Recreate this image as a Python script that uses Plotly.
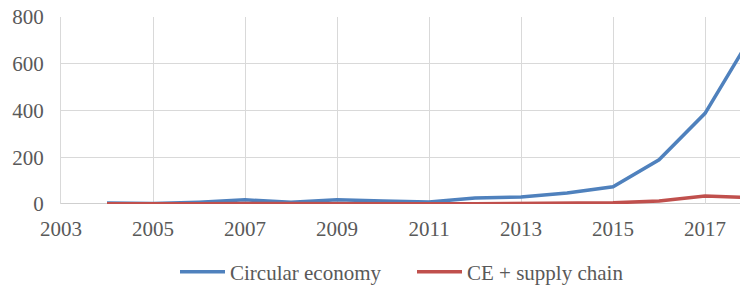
import plotly.graph_objects as go

years = list(range(2004, 2019))
circular_economy = [4, 2, 8, 18, 7, 18, 13, 9, 26, 30, 47, 74, 189, 388, 715]
ce_supply_chain = [1, 0, 1, 2, 1, 1, 1, 1, 1, 2, 5, 5, 13, 34, 27]
x_ticks = list(range(2003, 2018, 2))
y_ticks = [0, 200, 400, 600, 800]

font = dict(family="Liberation Serif, DejaVu Serif, serif", size=21, color="#595959")

fig = go.Figure()
fig.add_trace(go.Scatter(x=years, y=circular_economy, mode="lines", name="Circular economy",
                         line=dict(color="#4F81BD", width=3.5)))
fig.add_trace(go.Scatter(x=years, y=ce_supply_chain, mode="lines", name="CE + supply chain",
                         line=dict(color="#C0504D", width=3.5)))

fig.update_layout(
    width=740, height=285,
    margin=dict(l=61, r=0, t=17, b=81),
    paper_bgcolor="white", plot_bgcolor="white",
    font=font,
    showlegend=True,
    legend=dict(orientation="h", xref="container", yref="container",
                x=175 / 740, xanchor="left", y=1 - 272 / 285, yanchor="middle",
                font=font, itemwidth=45, tracegroupgap=0,
                entrywidth=177, entrywidthmode="pixels"),
    xaxis=dict(range=[2003, 2017.76], tickvals=x_ticks, showgrid=True, gridcolor="#d9d9d9",
               gridwidth=1, zeroline=False, showline=False, ticks="outside", ticklen=6,
               tickcolor="rgba(0,0,0,0)", tickfont=font, automargin=False),
    yaxis=dict(range=[0, 800], tickvals=y_ticks, showgrid=True, gridcolor="#d9d9d9",
               gridwidth=1, zeroline=False, showline=True, linecolor="#d9d9d9",
               ticks="outside", ticklen=12, tickcolor="rgba(0,0,0,0)", tickfont=font,
               automargin=False),
)
fig.add_shape(type="line", xref="paper", yref="y", x0=0, x1=1, y0=0, y1=0,
              line=dict(color="#bfbfbf", width=1.5), layer="below")

fig.write_html("out.html", config={"displayModeBar": False, "responsive": False},
               post_script="document.body.style.margin='0';document.body.style.overflow='hidden';")
